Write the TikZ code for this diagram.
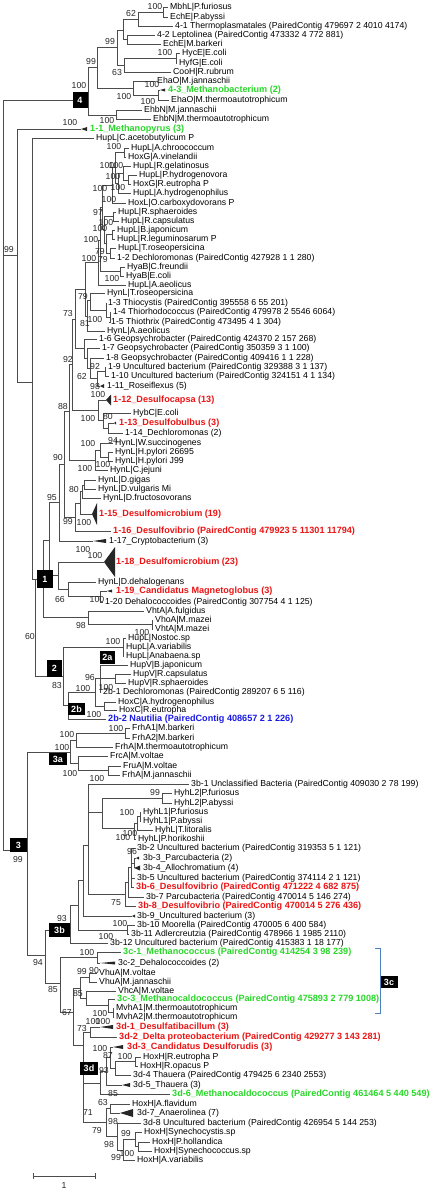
\documentclass[tikz,border=0pt]{standalone}
\usepackage{fontspec}
\setmainfont{Liberation Sans}
\definecolor{cladeGreen}{RGB}{40,215,40}
\definecolor{cladeRed}{RGB}{235,20,20}
\definecolor{cladeBlue}{RGB}{25,25,230}
\definecolor{bracketBlue}{RGB}{79,129,189}
\tikzset{
  br/.style={draw=black!70, line width=0.7pt},
  leaf/.style={anchor=west, inner xsep=2pt, inner ysep=0pt, text height=6.2pt, text depth=1.8pt, font=\fontsize{8.7}{9}\selectfont},
  gleaf/.style={leaf, text=cladeGreen, font=\fontsize{9.1}{9}\selectfont\bfseries},
  rleaf/.style={leaf, text=cladeRed, font=\fontsize{9.1}{9}\selectfont\bfseries},
  bleaf/.style={leaf, text=cladeBlue, font=\fontsize{9.1}{9}\selectfont\bfseries},
  bs/.style={inner sep=0pt, font=\fontsize{8.7}{9}\selectfont, text=black!85},
  cbox/.style={fill=black, text=white, inner sep=0pt, font=\fontsize{9}{9}\selectfont\bfseries},
  brk/.style={draw=bracketBlue, line width=0.8pt}
}
% collapsed clade: tip, length, half height
\newcommand{\tri}[3]{\fill[black!85] (#1) -- ++(#2,-#3) -- ++(0,2*#3) -- cycle;}

\begin{document}
\begin{tikzpicture}[x=1pt, y=-1pt]
\useasboundingbox (0,0) rectangle (432,1191);

% inner nodes
\coordinate (root) at (3,255);
\coordinate (node4) at (88,100);
\coordinate (nD) at (97,67);
\coordinate (n99) at (117,47);
\coordinate (nA) at (123,30);
\coordinate (n62) at (138,19);
\coordinate (n1) at (163,12);
\coordinate (nB) at (127,39);
\coordinate (nC) at (124,65);
\coordinate (nH) at (176,58);
\coordinate (E1) at (133,88);
\coordinate (E2) at (158,95);
\coordinate (nF) at (116,115);

\coordinate (n17) at (17,255);
\coordinate (n32) at (32,382);
\coordinate (n60) at (35,579);
\coordinate (c1) at (43,579);
\coordinate (nA1) at (49,540);
\coordinate (n95) at (59,502);
\coordinate (n90) at (64,464);
\coordinate (n88) at (69,411);
\coordinate (n92) at (72,364);
\coordinate (n73) at (75,319);
\coordinate (nHH) at (85,289);
\coordinate (hO) at (98,262);
\coordinate (hN) at (100,240);
\coordinate (hL) at (102,207);
\coordinate (hF) at (112,185);
\coordinate (hE) at (115,167);
\coordinate (hA) at (124,152);
\coordinate (hD) at (118,183);
\coordinate (hC) at (123,173);
\coordinate (hB) at (128,180);
\coordinate (hK) at (104,229);
\coordinate (hG) at (113,216);
\coordinate (hJ) at (106,243);
\coordinate (hH) at (112,234);
\coordinate (hI) at (110,253);
\coordinate (hM) at (120,271);
\coordinate (nA81) at (87,316);
\coordinate (nT) at (90,300);
\coordinate (n35) at (106,310);
\coordinate (n45) at (110,317);
\coordinate (nG1) at (84,348);
\coordinate (nG2) at (87,358);
\coordinate (nG3) at (90,368);
\coordinate (nG4) at (97,378);
\coordinate (n910) at (105,371);
\coordinate (nCapsa) at (98,410);
\coordinate (nHyb) at (103,420);
\coordinate (n1314) at (108,428);
\coordinate (nEps) at (95,460);
\coordinate (nWH) at (100,450);
\coordinate (nHp) at (108,457);
\coordinate (n99d) at (75,517);
\coordinate (n80) at (80,503);
\coordinate (nGVF) at (82,491);
\coordinate (nGV) at (84,485);
\coordinate (n18) at (58,575);
\coordinate (n66) at (68,589);
\coordinate (n1920) at (100,596);
\coordinate (nV) at (88,617);
\coordinate (nVm) at (152,624);
\coordinate (c2) at (63,676);
\coordinate (n2a) at (123,647);
\coordinate (n2b) at (68,705);
\coordinate (nV2) at (95,692);
\coordinate (nV1) at (100,678);
\coordinate (nCS) at (115,678);
\coordinate (nHoxC) at (104,706);

\coordinate (c3) at (27,850);
\coordinate (c3a) at (70,752);
\coordinate (nFrh) at (76,740);
\coordinate (nFrhA) at (125,733);
\coordinate (nFrc) at (78,763);
\coordinate (nFru) at (108,770);
\coordinate (n94) at (45,955);
\coordinate (c3b) at (70,930);
\coordinate (nB10) at (78,905);
\coordinate (nB9) at (83,880);
\coordinate (nB1) at (88,845);
\coordinate (nHyh) at (102,812);
\coordinate (nHyhL2) at (162,798);
\coordinate (n3h) at (134,828);
\coordinate (n2h) at (137,823);
\coordinate (n1h) at (140,816);
\coordinate (nB28) at (125,894);
\coordinate (nB27) at (128,882);
\coordinate (nB26) at (131,867);
\coordinate (nB34) at (134,863);
\coordinate (nB1011) at (127,930);
\coordinate (n85) at (60,983);
\coordinate (n3c12) at (97,957);
\coordinate (n67) at (73,1012);
\coordinate (nVV) at (80,988);
\coordinate (nVhu) at (89,977);
\coordinate (nVhc) at (86,998);
\coordinate (nMc3) at (108,1005);
\coordinate (nMvh) at (113,1012);
\coordinate (c3d) at (83,1045);
\coordinate (n3d1) at (90,1032);
\coordinate (nTh4) at (100,1083);
\coordinate (nTh2) at (106,1071);
\coordinate (n3dA) at (110,1057);
\coordinate (nTh1) at (115,1068);
\coordinate (nHoxR) at (135,1061);
\coordinate (nFC) at (106,1122);
\coordinate (nFl) at (110,1108);
\coordinate (nCy4) at (117,1136);
\coordinate (nCy3) at (123,1150);
\coordinate (nCy1) at (135,1139);
\coordinate (nCy2) at (138,1146);

% leaves
\node[leaf] (l01) at (168,7) {MbhL|P.furiosus};
\node[leaf] (l02) at (168,17) {EchE|P.abyssi};
\node[leaf] (l03) at (173,26) {4-1 Thermoplasmatales (PairedContig 479697 2 4010 4174)};
\node[leaf] (l04) at (155,35) {4-2 Leptolinea (PairedContig 473332 4 772 881)};
\node[leaf] (l05) at (161,44) {EchE|M.barkeri};
\node[leaf] (l06) at (180,53) {HycE|E.coli};
\node[leaf] (l07) at (177,63) {HyfG|E.coli};
\node[leaf] (l08) at (171,72) {CooH|R.rubrum};
\node[leaf] (l09) at (155,81) {EhaO|M.jannaschii};
\coordinate (t10) at (160,90); \node[gleaf] (t10l) at (166,90) {4-3\_Methanobacterium (2)};
\node[leaf] (l11) at (169,100) {EhaO|M.thermoautotrophicum};
\node[leaf] (l12) at (142,110) {EhbN|M.jannaschii};
\node[leaf] (l13) at (151,119) {EhbN|M.thermoautotrophicum};
\coordinate (t14) at (81,129); \node[gleaf] (t14l) at (88,129) {1-1\_Methanopyrus (3)};
\node[leaf] (l15) at (94,138) {HupL|C.acetobutylicum P};
\node[leaf] (l16) at (129,148) {HupL|A.chroococcum};
\node[leaf] (l17) at (126,157) {HoxG|A.vinelandii};
\node[leaf] (l18) at (131,166) {HupL|R.gelatinosus};
\node[leaf] (l19) at (137,175) {HupL|P.hydrogenovora};
\node[leaf] (l20) at (131,184) {HoxG|R.eutropha P};
\node[leaf] (l21) at (131,193) {HupL|A.hydrogenophilus};
\node[leaf] (l22) at (126,203) {HoxL|O.carboxydovorans P};
\node[leaf] (l23) at (116,212) {HupL|R.sphaeroides};
\node[leaf] (l24) at (119,221) {HupL|R.capsulatus};
\node[leaf] (l25) at (115,230) {HupL|B.japonicum};
\node[leaf] (l26) at (115,239) {HupL|R.leguminosarum P};
\node[leaf] (l27) at (116,248) {HupL|T.roseopersicina};
\node[leaf] (l28) at (115,258) {1-2 Dechloromonas (PairedContig 427928 1 1 280)};
\node[leaf] (l29) at (125,267) {HyaB|C.freundii};
\node[leaf] (l30) at (124,276) {HyaB|E.coli};
\node[leaf] (l31) at (126,285) {HupL|A.aeolicus};
\node[leaf] (l32) at (105,293) {HynL|T.roseopersicina};
\node[leaf] (l33) at (106,303) {1-3 Thiocystis (PairedContig 395558 6 55 201)};
\node[leaf] (l34) at (111,312) {1-4 Thiorhodococcus (PairedContig 479978 2 5546 6064)};
\node[leaf] (l35) at (109,322) {1-5 Thiothrix (PairedContig 473495 4 1 304)};
\node[leaf] (l36) at (105,331) {HynL|A.aeolicus};
\node[leaf] (l37) at (97,339) {1-6 Geopsychrobacter (PairedContig 424370 2 157 268)};
\node[leaf] (l38) at (100,348) {1-7 Geopsychrobacter (PairedContig 350359 3 1 100)};
\node[leaf] (l39) at (104,358) {1-8 Geopsychrobacter (PairedContig 409416 1 1 228)};
\node[leaf] (l40) at (106,367) {1-9 Uncultured bacterium (PairedContig 329388 3 1 137)};
\node[leaf] (l41) at (109,376) {1-10 Uncultured bacterium (PairedContig 324151 4 1 134)};
\coordinate (t42) at (100,386); \node[leaf] (t42l) at (105,386) {1-11\_Roseiflexus (5)};
\coordinate (t43) at (106,400); \node[rleaf] (t43l) at (111,400) {1-12\_Desulfocapsa (13)};
\node[leaf] (l44) at (131,413) {HybC|E.coli};
\coordinate (t45) at (114,423); \node[rleaf] (t45l) at (117,423) {1-13\_Desulfobulbus (3)};
\node[leaf] (l46) at (123,433) {1-14\_Dechloromonas (2)};
\node[leaf] (l47) at (113,443) {HynL|W.succinogenes};
\node[leaf] (l48) at (113,452) {HynL|H.pylori 26695};
\node[leaf] (l49) at (113,461) {HynL|H.pylori J99};
\node[leaf] (l50) at (108,470) {HynL|C.jejuni};
\node[leaf] (l51) at (96,480) {HynL|D.gigas};
\node[leaf] (l52) at (96,489) {HynL|D.vulgaris Mi};
\node[leaf] (l53) at (101,498) {HynL|D.fructosovorans};
\coordinate (t54) at (92,514); \node[rleaf] (t54l) at (97,514) {1-15\_Desulfomicrobium (19)};
\node[rleaf] (l55) at (111,531) {1-16\_Desulfovibrio (PairedContig 479923 5 11301 11794)};
\coordinate (t56) at (93,541); \node[leaf] (t56l) at (107,541) {1-17\_Cryptobacterium (3)};
\coordinate (t57) at (104,562); \node[rleaf] (t57l) at (114,562) {1-18\_Desulfomicrobium (23)};
\node[leaf] (l58) at (96,582) {HynL|D.dehalogenans};
\coordinate (t59) at (107,591); \node[rleaf] (t59l) at (114,591) {1-19\_Candidatus Magnetoglobus (3)};
\node[leaf] (l60) at (103,602) {1-20 Dehalococcoides (PairedContig 307754 4 1 125)};
\node[leaf] (l61) at (144,611) {VhtA|A.fulgidus};
\node[leaf] (l62) at (153,620) {VhoA|M.mazei};
\node[leaf] (l63) at (153,629) {VhtA|M.mazei};
\node[leaf] (l64) at (126,638) {HupL|Nostoc.sp};
\node[leaf] (l65) at (124,647) {HupL|A.variabilis};
\node[leaf] (l66) at (124,656) {HupL|Anabaena.sp};
\node[leaf] (l67) at (128,665) {HupV|B.japonicum};
\node[leaf] (l68) at (131,674) {HupV|R.capsulatus};
\node[leaf] (l69) at (126,683) {HupV|R.sphaeroides};
\node[leaf] (l70) at (101,692) {2b-1 Dechloromonas (PairedContig 289207 6 5 116)};
\node[leaf] (l71) at (116,702) {HoxC|A.hydrogenophilus};
\node[leaf] (l72) at (117,710) {HoxC|R.eutropha};
\node[bleaf] (l73) at (106,719) {2b-2 Nautilia (PairedContig 408657 2 1 226)};
\node[leaf] (l74) at (130,728) {FrhA1|M.barkeri};
\node[leaf] (l75) at (130,738) {FrhA2|M.barkeri};
\node[leaf] (l76) at (113,747) {FrhA|M.thermoautotrophicum};
\node[leaf] (l77) at (108,756) {FrcA|M.voltae};
\node[leaf] (l78) at (121,766) {FruA|M.voltae};
\node[leaf] (l79) at (120,775) {FrhA|M.jannaschii};
\node[leaf] (l80) at (189,784) {3b-1 Unclassified Bacteria (PairedContig 409030 2 78 199)};
\node[leaf] (l81) at (172,793) {HyhL2|P.furiosus};
\node[leaf] (l82) at (172,803) {HyhL2|P.abyssi};
\node[leaf] (l83) at (141,812) {HyhL1|P.furiosus};
\node[leaf] (l84) at (141,821) {HyhL1|P.abyssi};
\node[leaf] (l85) at (153,830) {HyhL|T.litoralis};
\node[leaf] (l86) at (136,839) {HyhL|P.horikoshii};
\node[leaf] (l87) at (135,848) {3b-2 Uncultured bacterium (PairedContig 319353 5 1 121)};
\coordinate (t88) at (136,858); \node[leaf] (t88l) at (141,858) {3b-3\_Parcubacteria (2)};
\coordinate (t89) at (134,868); \node[leaf] (t89l) at (141,868) {3b-4\_Allochromatium (4)};
\node[leaf] (l90) at (135,878) {3b-5 Uncultured bacterium (PairedContig 374114 2 1 121)};
\node[rleaf] (l91) at (134,887) {3b-6\_Desulfovibrio (PairedContig 471222 4 682 875)};
\node[leaf] (l92) at (144,897) {3b-7 Parcubacteria (PairedContig 470014 5 146 274)};
\node[rleaf] (l93) at (136,906) {3b-8\_Desulfovibrio (PairedContig 470014 5 276 436)};
\coordinate (t94) at (132,916); \node[leaf] (t94l) at (135,916) {3b-9\_Uncultured bacterium (3)};
\node[leaf] (l95) at (135,925) {3b-10 Moorella (PairedContig 470005 6 400 584)};
\node[leaf] (l96) at (129,934) {3b-11 Adlercreutzia (PairedContig 478966 1 1985 2110)};
\node[leaf] (l97) at (108,943) {3b-12 Uncultured bacterium (PairedContig 415383 1 18 177)};
\node[gleaf] (l98) at (121,952) {3c-1\_Methanococcus (PairedContig 414254 3 98 239)};
\coordinate (t99) at (100,963); \node[leaf] (t99l) at (116,963) {3c-2\_Dehalococcoides (2)};
\node[leaf] (l100) at (97,973) {VhuA|M.voltae};
\node[leaf] (l101) at (97,982) {VhuA|M.jannaschii};
\node[leaf] (l102) at (116,991) {VhcA|M.voltae};
\node[gleaf] (l103) at (115,999) {3c-3\_Methanocaldococcus (PairedContig 475893 2 779 1008)};
\node[leaf] (l104) at (114,1008) {MvhA1|M.thermoautotrophicum};
\node[leaf] (l105) at (114,1017) {MvhA2|M.thermoautotrophicum};
\coordinate (t106) at (100,1027); \node[rleaf] (t106l) at (114,1027) {3d-1\_Desulfatibacillum (3)};
\node[rleaf] (l107) at (117,1037) {3d-2\_Delta proteobacterium (PairedContig 429277 3 143 281)};
\coordinate (t108) at (113,1047); \node[rleaf] (t108l) at (125,1047) {3d-3\_Candidatus Desulforudis (3)};
\node[leaf] (l109) at (141,1057) {HoxH|R.eutropha P};
\node[leaf] (l110) at (138,1066) {HoxH|R.opacus P};
\node[leaf] (l111) at (131,1075) {3d-4 Thauera (PairedContig 479425 6 2340 2553)};
\coordinate (t112) at (122,1085); \node[leaf] (t112l) at (131,1085) {3d-5\_Thauera (3)};
\node[gleaf] (l113) at (170,1094) {3d-6\_Methanocaldococcus (PairedContig 461464 5 440 549)};
\node[leaf] (l114) at (130,1104) {HoxH|A.flavidum};
\coordinate (t115) at (120,1113); \node[leaf] (t115l) at (135,1113) {3d-7\_Anaerolinea (7)};
\node[leaf] (l116) at (141,1123) {3d-8 Uncultured bacterium (PairedContig 426954 5 144 253)};
\node[leaf] (l117) at (142,1132) {HoxH|Synechocystis.sp};
\node[leaf] (l118) at (150,1142) {HoxH|P.hollandica};
\node[leaf] (l119) at (152,1151) {HoxH|Synechococcus.sp};
\node[leaf] (l120) at (135,1160) {HoxH|A.variabilis};

% branches
\foreach \p/\c in {root/node4, root/n17, root/c3,
  node4/nD, node4/nF, nD/n99, nD/E1, n99/nA, n99/nC, nA/n62, nA/nB, n62/n1, n62/l03, n1/l01, n1/l02,
  nB/l04, nB/l05, nC/nH, nC/l08, nH/l06, nH/l07, E1/l09, E1/E2, E2/t10, E2/l11, nF/l12, nF/l13,
  n17/t14, n17/n32, n32/l15, n32/n60, n60/c1, n60/c2,
  c1/nA1, c1/nV, nA1/n95, nA1/n18, n95/n90, n95/t56, n90/n88, n90/n99d, n88/n92, n88/nEps,
  n92/n73, n92/nCapsa, n73/nHH, n73/nG1,
  nHH/hO, nHH/nA81, hO/hN, hO/l31, hN/hL, hN/hM, hL/hF, hL/hK, hF/hE, hF/l22, hE/hA, hE/hD,
  hA/l16, hA/l17, hD/hC, hD/l21, hC/l18, hC/hB, hB/l19, hB/l20, hK/hG, hK/hJ, hG/l23, hG/l24,
  hJ/hH, hJ/hI, hH/l25, hH/l26, hI/l27, hI/l28, hM/l29, hM/l30,
  nA81/nT, nA81/l36, nT/l32, nT/n35, n35/l33, n35/n45, n45/l34, n45/l35,
  nG1/l37, nG1/nG2, nG2/l38, nG2/nG3, nG3/l39, nG3/nG4, nG4/n910, nG4/t42, n910/l40, n910/l41,
  nCapsa/t43, nCapsa/nHyb, nHyb/l44, nHyb/n1314, n1314/t45, n1314/l46,
  nEps/nWH, nEps/l50, nWH/l47, nWH/nHp, nHp/l48, nHp/l49,
  n99d/n80, n99d/l55, n80/nGVF, n80/t54, nGVF/nGV, nGVF/l53, nGV/l51, nGV/l52,
  n18/t57, n18/n66, n66/l58, n66/n1920, n1920/t59, n1920/l60, nV/l61, nV/nVm, nVm/l62, nVm/l63,
  c2/n2a, c2/n2b, n2a/l64, n2a/l65, n2a/l66, n2b/nV2, n2b/l73, nV2/nV1, nV2/nHoxC,
  nV1/l67, nV1/nCS, nV1/l70, nCS/l68, nCS/l69, nHoxC/l71, nHoxC/l72,
  c3/c3a, c3/n94, c3a/nFrh, c3a/nFrc, nFrh/nFrhA, nFrh/l76, nFrhA/l74, nFrhA/l75,
  nFrc/l77, nFrc/nFru, nFru/l78, nFru/l79,
  n94/c3b, n94/n85, c3b/nB10, c3b/l97, nB10/nB9, nB10/nB1011, nB9/nB1, nB9/t94,
  nB1/l80, nB1/nHyh, nB1/nB28, nHyh/nHyhL2, nHyh/n3h, nHyhL2/l81, nHyhL2/l82,
  n3h/n2h, n3h/l86, n2h/n1h, n2h/l85, n1h/l83, n1h/l84,
  nB28/nB27, nB28/l93, nB27/nB26, nB27/l92, nB26/l87, nB26/nB34, nB26/l90, nB26/l91,
  nB34/t88, nB34/t89, nB1011/l95, nB1011/l96,
  n85/n3c12, n85/n67, n3c12/l98, n3c12/t99, n67/nVV, n67/c3d, nVV/nVhu, nVV/nVhc,
  nVhu/l100, nVhu/l101, nVhc/l102, nVhc/nMc3, nMc3/l103, nMc3/nMvh, nMvh/l104, nMvh/l105,
  c3d/n3d1, c3d/nTh4, c3d/nFC, n3d1/t106, n3d1/l107, nTh4/nTh2, nTh4/l113, nTh2/n3dA, nTh2/t112,
  n3dA/t108, n3dA/nTh1, nTh1/nHoxR, nTh1/l111, nHoxR/l109, nHoxR/l110,
  nFC/nFl, nFC/nCy4, nFl/l114, nFl/t115, nCy4/l116, nCy4/nCy3, nCy3/nCy1, nCy3/l120,
  nCy1/l117, nCy1/nCy2, nCy2/l118, nCy2/l119}
  \draw[br] (\p) |- (\c);

% collapsed clades
\tri{t10}{5}{1.5} \tri{t14}{6}{2} \tri{t42}{4}{2} \tri{t43}{5}{5.5} \tri{t45}{2}{1.5}
\tri{t54}{5}{11} \tri{t56}{13}{2} \tri{t57}{11}{15} \tri{t59}{5}{1.5} \tri{t88}{3}{1.5}
\tri{t89}{6}{2.5} \tri{t94}{3}{1.5} \tri{t99}{15}{1.5} \tri{t106}{13}{2} \tri{t108}{10}{2}
\tri{t112}{8}{2} \tri{t115}{13}{4}

% bootstrap values
\foreach \x/\y/\t [count=\i] in {155/7/100, 131/14/62, 110/42/99, 165/53/100, 117/73/63, 91/62/99,
  152/85/100, 79/86/100, 124/97/100, 148/102/100, 107/121/100, 70/123/100,
  114/147/100, 107/166/100, 116/166/100, 113/177/100, 100/189/100, 118/188/100, 109/200/100,
  98/213/97, 106/223/100, 100/229/100, 91/240/100, 100/252/79, 89/259/100, 103/260/79, 112/279/100,
  9/250/99, 83/297/79, 95/320/100, 68/314/73, 85/324/81, 68/360/92, 95/367/92, 82/376/62, 95/386/98,
  98/394/100, 63/407/88, 88/418/100, 108/416/80, 113/440/94, 88/443/100, 103/464/100, 85/468/100,
  58/457/90, 74/489/80, 52/497/95, 68/521/99, 84/522/100, 83/549/100, 95/555/100,
  60/599/66, 97/599/100, 81/625/98, 30/636/60, 142/632/100, 113/641/100,
  90/677/96, 57/685/83, 83/688/100, 106/687/100, 94/714/100,
  116/728/100, 67/734/100, 62/747/100, 70/773/100, 97/778/100,
  155/792/99, 127/812/100, 130/833/100, 123/837/100, 132/851/96, 18/859/99,
  116/903/75, 62/918/93, 120/923/100, 106/936/100, 87/952/100,
  38/962/94, 82/971/99, 94/970/90, 53/989/85, 78/993/85, 100/1013/100, 67/1012/67,
  93/1021/100, 103/1021/100, 82/1028/73, 100/1048/100, 108/1055/87, 125/1056/100,
  104/1070/93, 113/1093/85, 103/1102/63, 88/1112/71, 113/1121/98, 97/1130/79,
  126/1133/99, 109/1144/98, 127/1153/100, 116/1157/99}
  \node[bs] (bs\i) at (\x,\y) {\t};

% group boxes
\node[cbox, minimum width=15pt, minimum height=16pt] (bx4) at (80,100) {4};
\node[cbox, minimum width=16pt, minimum height=18pt] (bx1) at (45,579) {1};
\node[cbox, minimum width=15pt, minimum height=17pt] (bx2) at (54.5,668.5) {2};
\node[cbox, minimum width=15pt, minimum height=13pt] (bx2a) at (107.5,657) {2a};
\node[cbox, minimum width=17pt, minimum height=12pt] (bx2b) at (76.5,709) {2b};
\node[cbox, minimum width=17pt, minimum height=14pt] (bx3) at (18.5,845) {3};
\node[cbox, minimum width=18pt, minimum height=12pt] (bx3a) at (58,759) {3a};
\node[cbox, minimum width=21pt, minimum height=14pt] (bx3b) at (59.5,930) {3b};
\node[cbox, minimum width=18pt, minimum height=12pt] (bx3c) at (389,982) {3c};
\node[cbox, minimum width=18pt, minimum height=13pt] (bx3d) at (89,1068.5) {3d};

% bracket of 3c
\coordinate (k1) at (375,948);
\coordinate (k2) at (375,1013);
\draw[brk] (k1) -- ++(5,0) |- (k2);

% scale bar
\coordinate (s1) at (33,1176);
\coordinate (s2) at (95,1176);
\draw[br] (s1) -- (s2);
\draw[br] (s1) ++(0,-3) -- ++(0,6);
\draw[br] (s2) ++(0,-3) -- ++(0,6);
\node[bs] (sl) at (64,1185) {1};
\end{tikzpicture}
\end{document}
